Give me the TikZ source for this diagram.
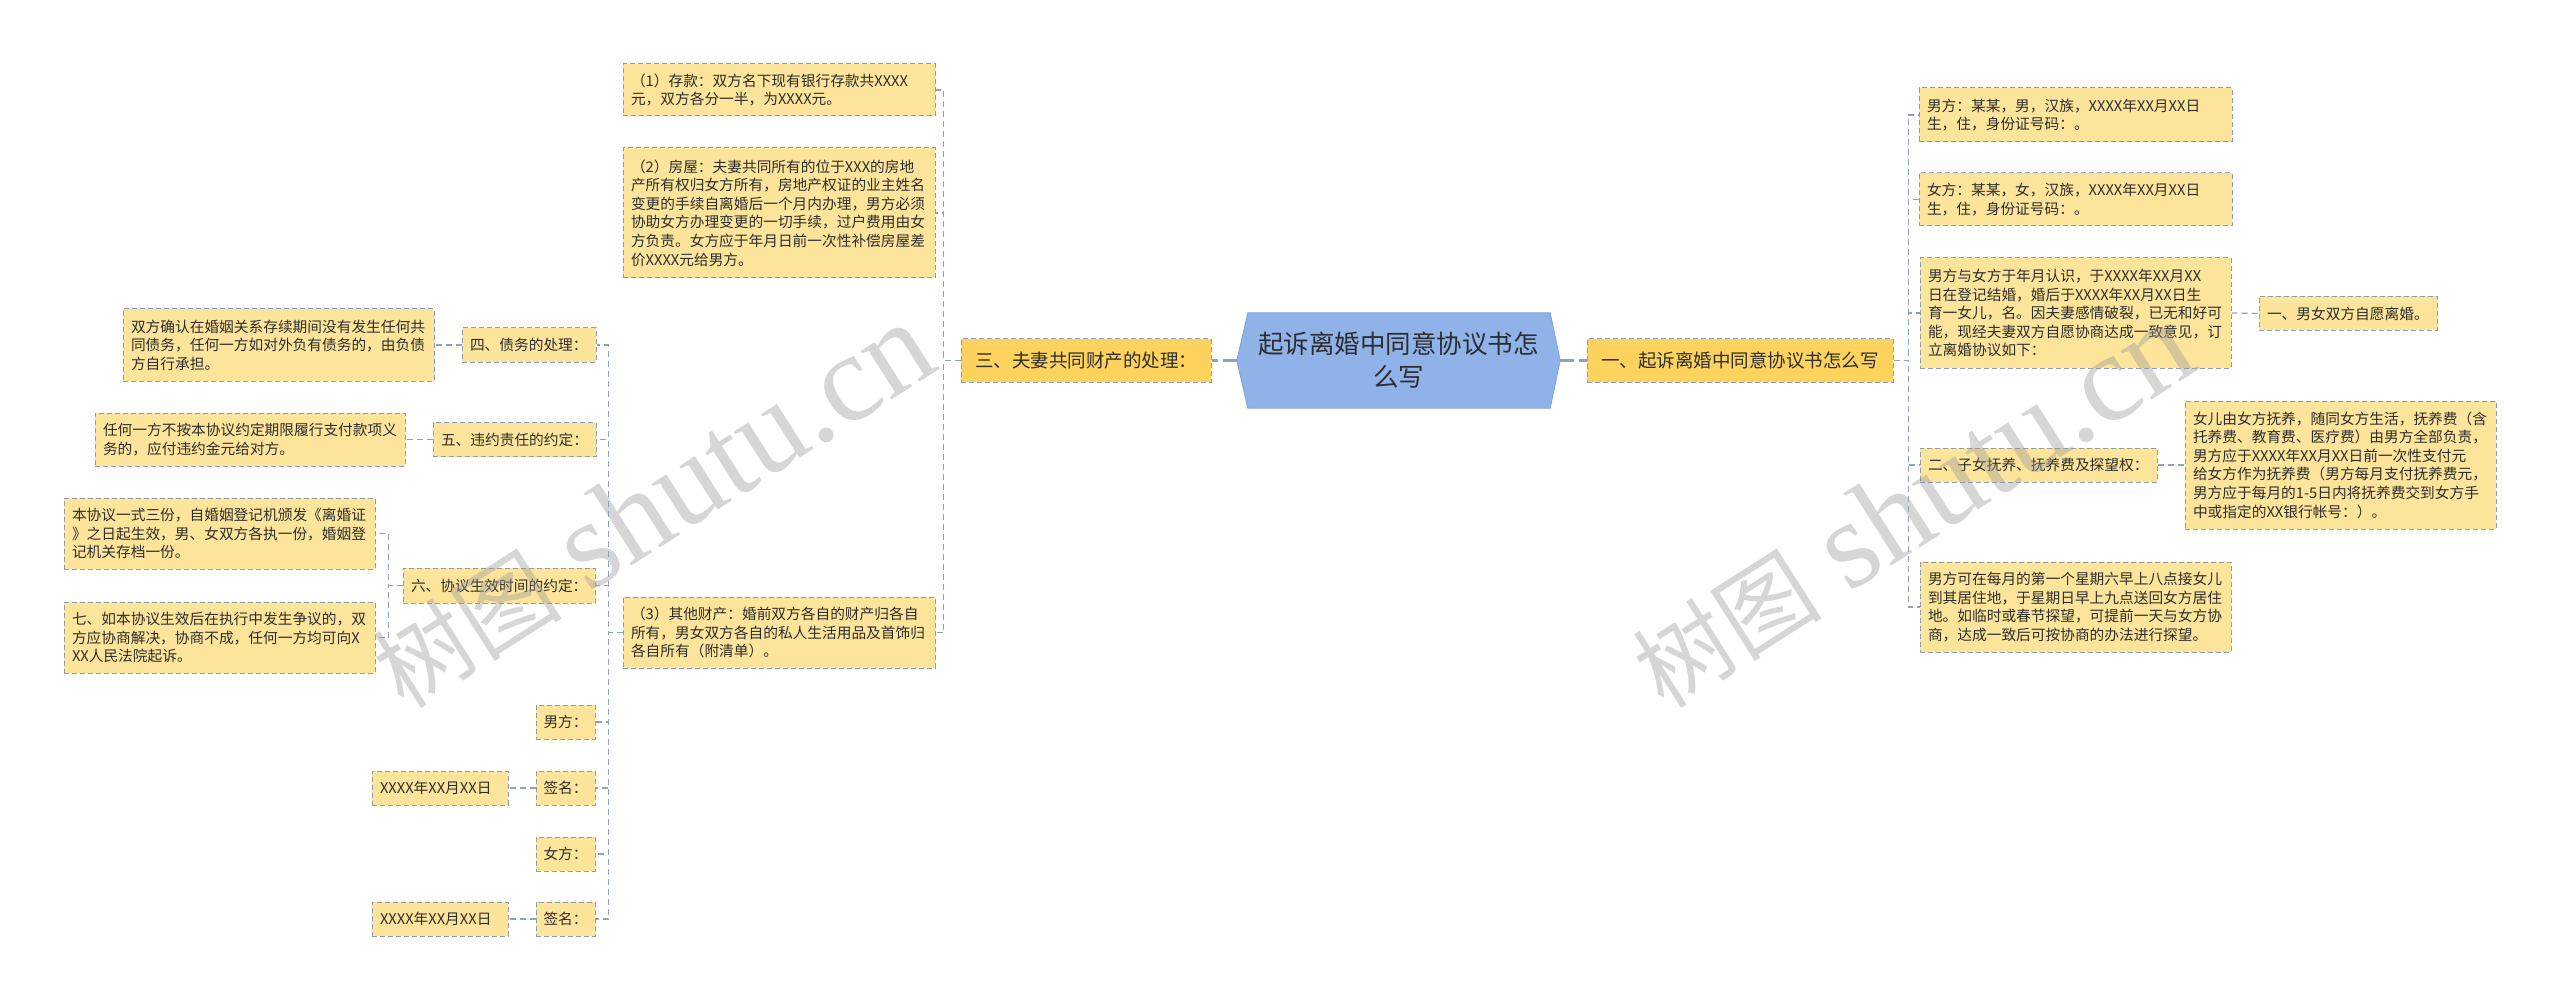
\documentclass[tikz,border=0pt]{standalone}
\usepackage{fontspec}
\setmainfont{Noto Sans CJK SC}
\newfontfamily\wmlatin{Liberation Serif}
\usetikzlibrary{backgrounds}
\definecolor{boxfill}{HTML}{FDE49B}
\definecolor{lonefill}{HTML}{FDD35E}
\definecolor{hexfill}{HTML}{8FB2E9}
\definecolor{hexdraw}{HTML}{7FA3DE}
\definecolor{bordc}{HTML}{8C9CB3}
\definecolor{connc}{HTML}{8EA2BF}
\definecolor{txtc}{HTML}{2E2E2E}
\definecolor{wmc}{HTML}{9A9A9A}
\tikzset{
  tb/.style={draw=bordc, fill=boxfill, line width=1pt, dash pattern=on 5pt off 3pt,
    inner xsep=8pt, inner ysep=0pt, align=left, text=txtc,
    font={\fontsize{14.7}{18.6}\selectfont}},
  lone/.style={draw=bordc, fill=lonefill, line width=1pt, dash pattern=on 5pt off 3pt,
    inner xsep=14pt, inner ysep=0pt, text=txtc, minimum height=43pt,
    font={\fontsize{18.5}{22}\selectfont}},
  centre/.style={inner sep=0pt, align=center, text=txtc, minimum width=323pt,
    minimum height=95pt, font={\fontsize{25.5}{33}\selectfont}},
  conn/.style={draw=connc, line width=1.2pt, dash pattern=on 6pt off 4pt},
  mainconn/.style={draw=connc, line width=2.6pt, dash pattern=on 14pt off 5pt},
  wm/.style={text=wmc, opacity=0.4, rotate=32.5, inner sep=0pt}
}
\begin{document}
\begin{tikzpicture}[x=1pt,y=-1pt]
\useasboundingbox (0,0) rectangle (2560,1000);

% centre
\node[centre] (c) at (1398.5,360.5) {起诉离婚中同意协议书怎\\么写};
\begin{scope}[on background layer]
\fill[white] (0,0) rectangle (2560,1000);
\path[fill=hexfill, draw=hexdraw, line width=0.8pt] (c.west) -- ([xshift=11pt]c.north west) -- ([xshift=-10pt]c.north east) -- (c.east) -- ([xshift=-10pt]c.south east) -- ([xshift=11pt]c.south west) -- cycle;
\end{scope}

% level one
\node[lone, minimum width=248pt] (L3) at (1086,360.5) {三、夫妻共同财产的处理：};
\node[lone, minimum width=306pt] (L1) at (1740,360.5) {一、起诉离婚中同意协议书怎么写};

% left branch
\node[tb, text width=296pt, minimum height=52pt] (n1) at (779,90) {（1）存款：双方名下现有银行存款共XXXX\\元，双方各分一半，为XXXX元。};
\node[tb, text width=296pt, minimum height=130pt] (n2) at (779,213) {（2）房屋：夫妻共同所有的位于XXX的房地\\产所有权归女方所有，房地产权证的业主姓名\\变更的手续自离婚后一个月内办理，男方必须\\协助女方办理变更的一切手续，过户费用由女\\方负责。女方应于年月日前一次性补偿房屋差\\价XXXX元给男方。};
\node[tb, text width=296pt, minimum height=71pt] (n3) at (779,632.5) {（3）其他财产：婚前双方各自的财产归各自\\所有，男女双方各自的私人生活用品及首饰归\\各自所有（附清单）。};

\node[tb, text width=118pt, minimum height=34pt] (s4) at (529,345) {四、债务的处理：};
\node[tb, text width=295pt, minimum height=72pt] (d4) at (278.5,345) {双方确认在婚姻关系存续期间没有发生任何共\\同债务，任何一方如对外负有债务的，由负债\\方自行承担。};
\node[tb, text width=147pt, minimum height=34pt] (s5) at (514.5,439.5) {五、违约责任的约定：};
\node[tb, text width=294pt, minimum height=53pt] (d5) at (250,439.5) {任何一方不按本协议约定期限履行支付款项义\\务的，应付违约金元给对方。};
\node[tb, text width=176pt, minimum height=35pt] (s6) at (499,585.5) {六、协议生效时间的约定：};
\node[tb, text width=295pt, minimum height=71pt] (d6a) at (219.5,533.5) {本协议一式三份，自婚姻登记机颁发《离婚证\\》之日起生效，男、女双方各执一份，婚姻登\\记机关存档一份。};
\node[tb, text width=295pt, minimum height=71pt] (d6b) at (219.5,637.5) {七、如本协议生效后在执行中发生争议的，双\\方应协商解决，协商不成，任何一方均可向X\\XX人民法院起诉。};
\node[tb, text width=44pt, inner xsep=7.5pt, minimum height=34pt] (m1) at (565.5,722) {男方：};
\node[tb, text width=44pt, inner xsep=7.5pt, minimum height=34pt] (g1) at (565.5,788) {签名：};
\node[tb, text width=120pt, minimum height=34pt] (t1) at (440,788) {XXXX年XX月XX日};
\node[tb, text width=44pt, inner xsep=7.5pt, minimum height=34pt] (f1) at (565.5,854) {女方：};
\node[tb, text width=44pt, inner xsep=7.5pt, minimum height=34pt] (g2) at (565.5,919) {签名：};
\node[tb, text width=120pt, minimum height=34pt] (t2) at (440,919) {XXXX年XX月XX日};

% right branch
\node[tb, text width=297pt, minimum height=54pt] (r1) at (2075.5,115) {男方：某某，男，汉族，XXXX年XX月XX日\\生，住，身份证号码：。};
\node[tb, text width=297pt, minimum height=53pt] (r2) at (2075.5,199.5) {女方：某某，女，汉族，XXXX年XX月XX日\\生，住，身份证号码：。};
\node[tb, text width=295pt, minimum height=110pt] (r3) at (2075.5,313) {男方与女方于年月认识，于XXXX年XX月XX\\日在登记结婚，婚后于XXXX年XX月XX日生\\育一女儿，名。因夫妻感情破裂，已无和好可\\能，现经夫妻双方自愿协商达成一致意见，订\\立离婚协议如下：};
\node[tb, text width=162pt, minimum height=34pt] (r3a) at (2348,313.5) {一、男女双方自愿离婚。};
\node[tb, text width=221pt, minimum height=34pt] (r4) at (2038.5,465) {二、子女抚养、抚养费及探望权：};
\node[tb, text width=295pt, minimum height=128pt] (r4a) at (2340.5,465) {女儿由女方抚养，随同女方生活，抚养费（含\\托养费、教育费、医疗费）由男方全部负责，\\男方应于XXXX年XX月XX日前一次性支付元\\给女方作为抚养费（男方每月支付抚养费元，\\男方应于每月的1-5日内将抚养费交到女方手\\中或指定的XX银行帐号：）。};
\node[tb, text width=295pt, minimum height=90pt] (r5) at (2075.5,607) {男方可在每月的第一个星期六早上八点接女儿\\到其居住地，于星期日早上九点送回女方居住\\地。如临时或春节探望，可提前一天与女方协\\商，达成一致后可按协商的办法进行探望。};

% connectors
\draw[mainconn] (c.west) -- (L3.east);
\draw[mainconn] (c.east) -- (L1.west);

\draw[conn] (L3.west) -- ++(-17,0) |- (n1.east);
\draw[conn] (L3.west) -- ++(-17,0) |- (n2.east);
\draw[conn] (L3.west) -- ++(-17,0) |- (n3.east);

\draw[conn] (n3.west) -- ++(-14,0) |- (s4.east);
\draw[conn] (n3.west) -- ++(-14,0) |- (s5.east);
\draw[conn] (n3.west) -- ++(-14,0) |- (s6.east);
\draw[conn] (n3.west) -- ++(-14,0) |- (m1.east);
\draw[conn] (n3.west) -- ++(-14,0) |- (g1.east);
\draw[conn] (n3.west) -- ++(-14,0) |- (f1.east);
\draw[conn] (n3.west) -- ++(-14,0) |- (g2.east);

\draw[conn] (s4.west) -- (d4.east);
\draw[conn] (s5.west) -- (d5.east);
\draw[conn] (s6.west) -- ++(-14,0) |- (d6a.east);
\draw[conn] (s6.west) -- ++(-14,0) |- (d6b.east);
\draw[conn] (g1.west) -- (t1.east);
\draw[conn] (g2.west) -- (t2.east);

\draw[conn] (L1.east) -- ++(15,0) |- (r1.west);
\draw[conn] (L1.east) -- ++(15,0) |- (r2.west);
\draw[conn] (L1.east) -- ++(15,0) |- (r3.west);
\draw[conn] (L1.east) -- ++(15,0) |- (r4.west);
\draw[conn] (L1.east) -- ++(15,0) |- (r5.west);
\draw[conn] (r3.east) -- (r3a.west);
\draw[conn] (r4.east) -- (r4a.west);

% watermarks
\node[wm] (wm1) at (652,506) {{\fontsize{95}{100}\selectfont 树图}\hspace{28pt}{\wmlatin\fontsize{125}{130}\selectfont shutu.cn}};
\node[wm] (wm2) at (1912,506) {{\fontsize{95}{100}\selectfont 树图}\hspace{28pt}{\wmlatin\fontsize{125}{130}\selectfont shutu.cn}};
\end{tikzpicture}
\end{document}
